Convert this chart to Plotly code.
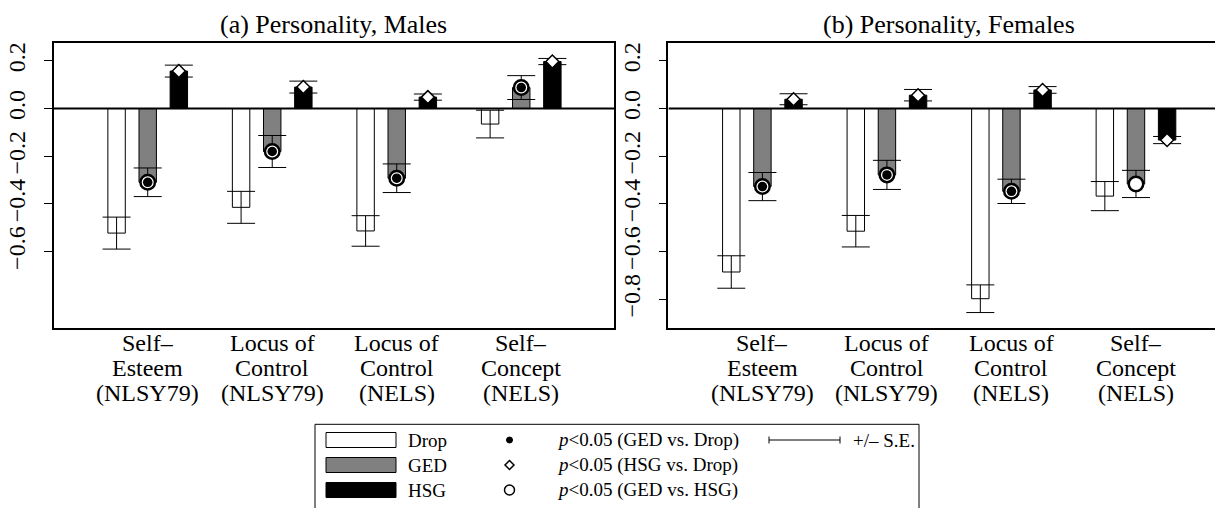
import plotly.graph_objects as go

# ---- data -------------------------------------------------------------
category_lines = [
    ("Self–", "Esteem", "(NLSY79)"),
    ("Locus of", "Control", "(NLSY79)"),
    ("Locus of", "Control", "(NELS)"),
    ("Self–", "Concept", "(NELS)"),
]
groups = ["Drop", "GED", "HSG"]

males_drop = [-0.522, -0.414, -0.513, -0.065]
males_drop_se = [0.067, 0.067, 0.064, 0.058]
males_ged = [-0.309, -0.180, -0.292, 0.088]
males_ged_se = [0.060, 0.067, 0.060, 0.050]
males_hsg = [0.157, 0.090, 0.048, 0.197]
males_hsg_se = [0.025, 0.025, 0.013, 0.013]

females_drop = [-0.685, -0.514, -0.797, -0.367]
females_drop_se = [0.068, 0.066, 0.058, 0.061]
females_ged = [-0.327, -0.278, -0.347, -0.316]
females_ged_se = [0.059, 0.061, 0.051, 0.057]
females_hsg = [0.039, 0.056, 0.078, -0.132]
females_hsg_se = [0.023, 0.024, 0.014, 0.015]

# significance flags (1 = p<0.05)
males_ged_vs_drop = [1, 1, 1, 1]
males_hsg_vs_drop = [1, 1, 1, 1]
males_ged_vs_hsg = [1, 1, 1, 1]
females_ged_vs_drop = [1, 1, 1, 0]
females_hsg_vs_drop = [1, 1, 1, 1]
females_ged_vs_hsg = [1, 1, 1, 1]

y_ticks_left = [0.2, 0.0, -0.2, -0.4, -0.6]
y_ticks_right = [0.2, 0.0, -0.2, -0.4, -0.6, -0.8]

# ---- layout helpers ---------------------------------------------------
W, H = 1215, 508
FONT = "Liberation Serif"
BAR_W = 0.56
BAR_COLORS = {"Drop": "white", "GED": "#808080", "HSG": "black"}


def px(x):
    return x / W


def py(y):
    return 1 - y / H


def positions(offset):
    return [4 * g + offset for g in range(len(category_lines))]


fig = go.Figure()

panels = [
    dict(xa="x", ya="y",
         vals=dict(Drop=(males_drop, males_drop_se), GED=(males_ged, males_ged_se),
                   HSG=(males_hsg, males_hsg_se)),
         dot=males_ged_vs_drop, diamond=males_hsg_vs_drop, ring=males_ged_vs_hsg),
    dict(xa="x2", ya="y2",
         vals=dict(Drop=(females_drop, females_drop_se), GED=(females_ged, females_ged_se),
                   HSG=(females_hsg, females_hsg_se)),
         dot=females_ged_vs_drop, diamond=females_hsg_vs_drop, ring=females_ged_vs_hsg),
]

for p in panels:
    for b, name in enumerate(groups):
        vals, se = p["vals"][name]
        fig.add_trace(go.Bar(
            x=positions(b), y=vals, width=BAR_W, name=name, showlegend=False,
            marker=dict(color=BAR_COLORS[name], line=dict(color="black", width=1)),
            error_y=dict(type="data", array=se, color="black", thickness=1, width=14),
            xaxis=p["xa"], yaxis=p["ya"],
        ))
    ged_x = positions(1)
    hsg_x = positions(2)
    ged_v = p["vals"]["GED"][0]
    hsg_v = p["vals"]["HSG"][0]
    # GED vs HSG: open ring
    fig.add_trace(go.Scatter(
        x=[x for x, f in zip(ged_x, p["ring"]) if f],
        y=[v for v, f in zip(ged_v, p["ring"]) if f],
        mode="markers", showlegend=False, hoverinfo="skip",
        marker=dict(symbol="circle", size=14.5, color="white", line=dict(color="black", width=2.5)),
        xaxis=p["xa"], yaxis=p["ya"],
    ))
    # GED vs Drop: solid dot
    fig.add_trace(go.Scatter(
        x=[x for x, f in zip(ged_x, p["dot"]) if f],
        y=[v for v, f in zip(ged_v, p["dot"]) if f],
        mode="markers", showlegend=False, hoverinfo="skip",
        marker=dict(symbol="circle", size=9.5, color="black"),
        xaxis=p["xa"], yaxis=p["ya"],
    ))
    # HSG vs Drop: open diamond
    fig.add_trace(go.Scatter(
        x=[x for x, f in zip(hsg_x, p["diamond"]) if f],
        y=[v for v, f in zip(hsg_v, p["diamond"]) if f],
        mode="markers", showlegend=False, hoverinfo="skip",
        marker=dict(symbol="diamond", size=10, color="white", line=dict(color="black", width=1.5)),
        xaxis=p["xa"], yaxis=p["ya"],
    ))

# ---- axes ---------------------------------------------------------------
UNIT = 31.13            # pixels per bar slot
Y_RANGE = [-0.921, 0.276]
y_dom = [py(328.3), py(42.7)]
left_dom = [px(53.7), px(614)]
right_dom = [px(668.4), 1.0]
left_range = [-2.02, 15.98]
right_range = [-2.02, -2.02 + (W - 668.4) / UNIT]

xcommon = dict(showline=True, mirror=True, linecolor="black", linewidth=1.5,
               showgrid=False, zeroline=False, ticks="", showticklabels=False)
ycommon = dict(showline=True, linecolor="black", linewidth=1.5, showgrid=False,
               zeroline=False, ticks="outside", ticklen=8, tickcolor="black",
               tickwidth=1.2, tickangle=-90, tickformat=".1f", range=Y_RANGE,
               domain=y_dom, tickfont=dict(family=FONT, size=24, color="black"),
               ticklabelstandoff=9)

fig.update_layout(
    xaxis=dict(domain=left_dom, range=left_range, anchor="y", **xcommon),
    yaxis=dict(anchor="x", tickvals=y_ticks_left, mirror=True, **ycommon),
    xaxis2=dict(domain=right_dom, range=right_range, anchor="y2", **xcommon),
    yaxis2=dict(anchor="x2", tickvals=y_ticks_right, mirror=False, **ycommon),
)

shapes = []
annotations = []
# zero reference lines
for xr, yr, rng in (("x", "y", left_range), ("x2", "y2", right_range)):
    shapes.append(dict(type="line", xref=xr, yref=yr, x0=rng[0], x1=rng[1], y0=0, y1=0,
                       line=dict(color="black", width=2), layer="above"))

# category labels, one line at a time under each GED bar
LABEL_ROWS = [343, 368, 393]
for xr in ("x", "x2"):
    for xpos, lines in zip(positions(1), category_lines):
        for line, yrow in zip(lines, LABEL_ROWS):
            annotations.append(dict(text=line, xref=xr, yref="paper", x=xpos, y=py(yrow),
                                    xanchor="center", yanchor="middle", showarrow=False,
                                    font=dict(family=FONT, size=24, color="black")))

# panel titles
for title, dom in (("(a) Personality, Males", left_dom),
                   ("(b) Personality, Females", [right_dom[0], px(668.4 + 18 * UNIT)])):
    annotations.append(dict(text=title, xref="paper", yref="paper",
                            x=(dom[0] + dom[1]) / 2, y=py(24), xanchor="center",
                            yanchor="middle", showarrow=False,
                            font=dict(family=FONT, size=26, color="black")))

# ---- key box -----------------------------------------------------------
shapes.append(dict(type="rect", xref="paper", yref="paper", x0=px(315), x1=px(919),
                   y0=-0.1, y1=py(424.3), line=dict(color="black", width=1),
                   fillcolor="rgba(0,0,0,0)"))
row_y = [440, 465, 490]
LF = dict(family=FONT, size=19, color="black")
sig_labels = ["<i>p</i>&lt;0.05 (GED vs. Drop)", "<i>p</i>&lt;0.05 (HSG vs. Drop)",
              "<i>p</i>&lt;0.05 (GED vs. HSG)"]
for i, name in enumerate(groups):
    yc = row_y[i]
    shapes.append(dict(type="rect", xref="paper", yref="paper", x0=px(326), x1=px(396),
                       y0=py(yc + 7.5), y1=py(yc - 7.5), fillcolor=BAR_COLORS[name],
                       line=dict(color="black", width=1)))
    annotations.append(dict(text=name, xref="paper", yref="paper", x=px(406), y=py(yc),
                            xanchor="left", yanchor="middle", showarrow=False, font=LF))
    annotations.append(dict(text=sig_labels[i], xref="paper", yref="paper", x=px(555),
                            y=py(yc), xanchor="left", yanchor="middle", showarrow=False,
                            font=LF))

mx = 509.5
# dot
shapes.append(dict(type="circle", xref="paper", yref="paper", x0=px(mx - 3), x1=px(mx + 3),
                   y0=py(row_y[0] + 3), y1=py(row_y[0] - 3), fillcolor="black",
                   line=dict(color="black", width=1)))
# diamond
d = 4.5
yd = row_y[1]
shapes.append(dict(type="path", xref="paper", yref="paper",
                   path=f"M {px(mx)} {py(yd - d)} L {px(mx + d)} {py(yd)} "
                        f"L {px(mx)} {py(yd + d)} L {px(mx - d)} {py(yd)} Z",
                   fillcolor="white", line=dict(color="black", width=1.5)))
# ring
shapes.append(dict(type="circle", xref="paper", yref="paper", x0=px(mx - 5), x1=px(mx + 5),
                   y0=py(row_y[2] + 5), y1=py(row_y[2] - 5), fillcolor="white",
                   line=dict(color="black", width=1.5)))
# +/- S.E. sample
se_y = row_y[0]
shapes.append(dict(type="line", xref="paper", yref="paper", x0=px(769), x1=px(840),
                   y0=py(se_y), y1=py(se_y), line=dict(color="black", width=1)))
for xe in (769, 840):
    shapes.append(dict(type="line", xref="paper", yref="paper", x0=px(xe), x1=px(xe),
                       y0=py(se_y - 3.5), y1=py(se_y + 3.5), line=dict(color="black", width=1)))
annotations.append(dict(text="+/– S.E.", xref="paper", yref="paper", x=px(851), y=py(se_y),
                        xanchor="left", yanchor="middle", showarrow=False, font=LF))

fig.update_layout(
    width=W, height=H, margin=dict(l=0, r=0, t=0, b=0),
    paper_bgcolor="white", plot_bgcolor="white", barmode="overlay",
    shapes=shapes, annotations=annotations, showlegend=False,
    font=dict(family=FONT, color="black"),
)

fig.write_html("out.html")
